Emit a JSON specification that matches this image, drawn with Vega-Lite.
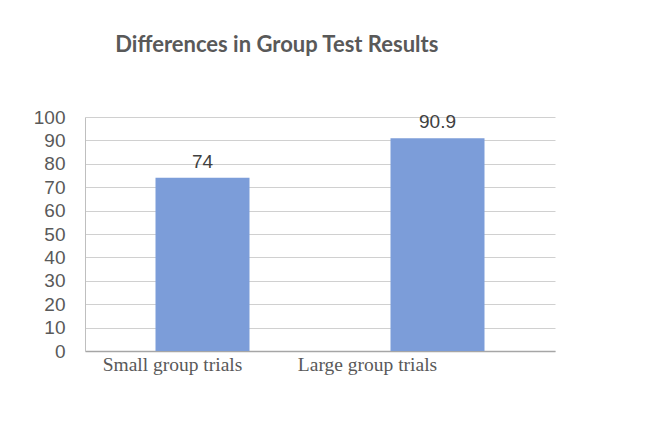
{
  "$schema": "https://vega.github.io/schema/vega-lite/v6.json",
  "autosize": "none",
  "width": 470,
  "height": 234,
  "padding": {"left": 85, "top": 117, "right": 92, "bottom": 86},
  "background": "white",
  "title": {
    "text": "Differences in Group Test Results",
    "anchor": "start",
    "dx": 82,
    "offset": 51,
    "font": "Lato",
    "fontSize": 22,
    "fontWeight": "bold",
    "color": "#595959"
  },
  "data": {
    "values": [
      {"group": "Small group trials", "score": 74},
      {"group": "Large group trials", "score": 90.9}
    ]
  },
  "encoding": {
    "x": {
      "field": "group",
      "type": "nominal",
      "sort": null,
      "scale": {"paddingInner": 0.6, "paddingOuter": 0.3},
      "axis": {
        "title": null,
        "labelAngle": 0,
        "labelFont": "Liberation Serif",
        "labelFontSize": 19.5,
        "labelColor": "#595959",
        "ticks": false,
        "labelPadding": 4,
        "labelOffset": {"condition": {"test": "datum.value == 'Large group trials'", "value": -70}, "value": -30},
        "domainColor": "#a6a6a6",
        "domainWidth": 1.5
      }
    },
    "y": {
      "field": "score",
      "type": "quantitative",
      "scale": {"domain": [0, 100]},
      "axis": {
        "title": null,
        "values": [0, 10, 20, 30, 40, 50, 60, 70, 80, 90, 100],
        "labelFont": "Liberation Sans",
        "labelFontSize": 19,
        "labelColor": "#595959",
        "ticks": false,
        "labelPadding": 20,
        "domainColor": "#bfbfbf",
        "gridColor": "#d0d0d0",
        "gridWidth": 1
      }
    }
  },
  "layer": [
    {"mark": {"type": "bar", "color": "#7C9DD9"}},
    {
      "mark": {
        "type": "text",
        "dy": -16,
        "font": "Liberation Sans",
        "fontSize": 19,
        "color": "#404040"
      },
      "encoding": {"text": {"field": "score", "type": "quantitative"}}
    }
  ],
  "config": {"view": {"stroke": null}}
}
